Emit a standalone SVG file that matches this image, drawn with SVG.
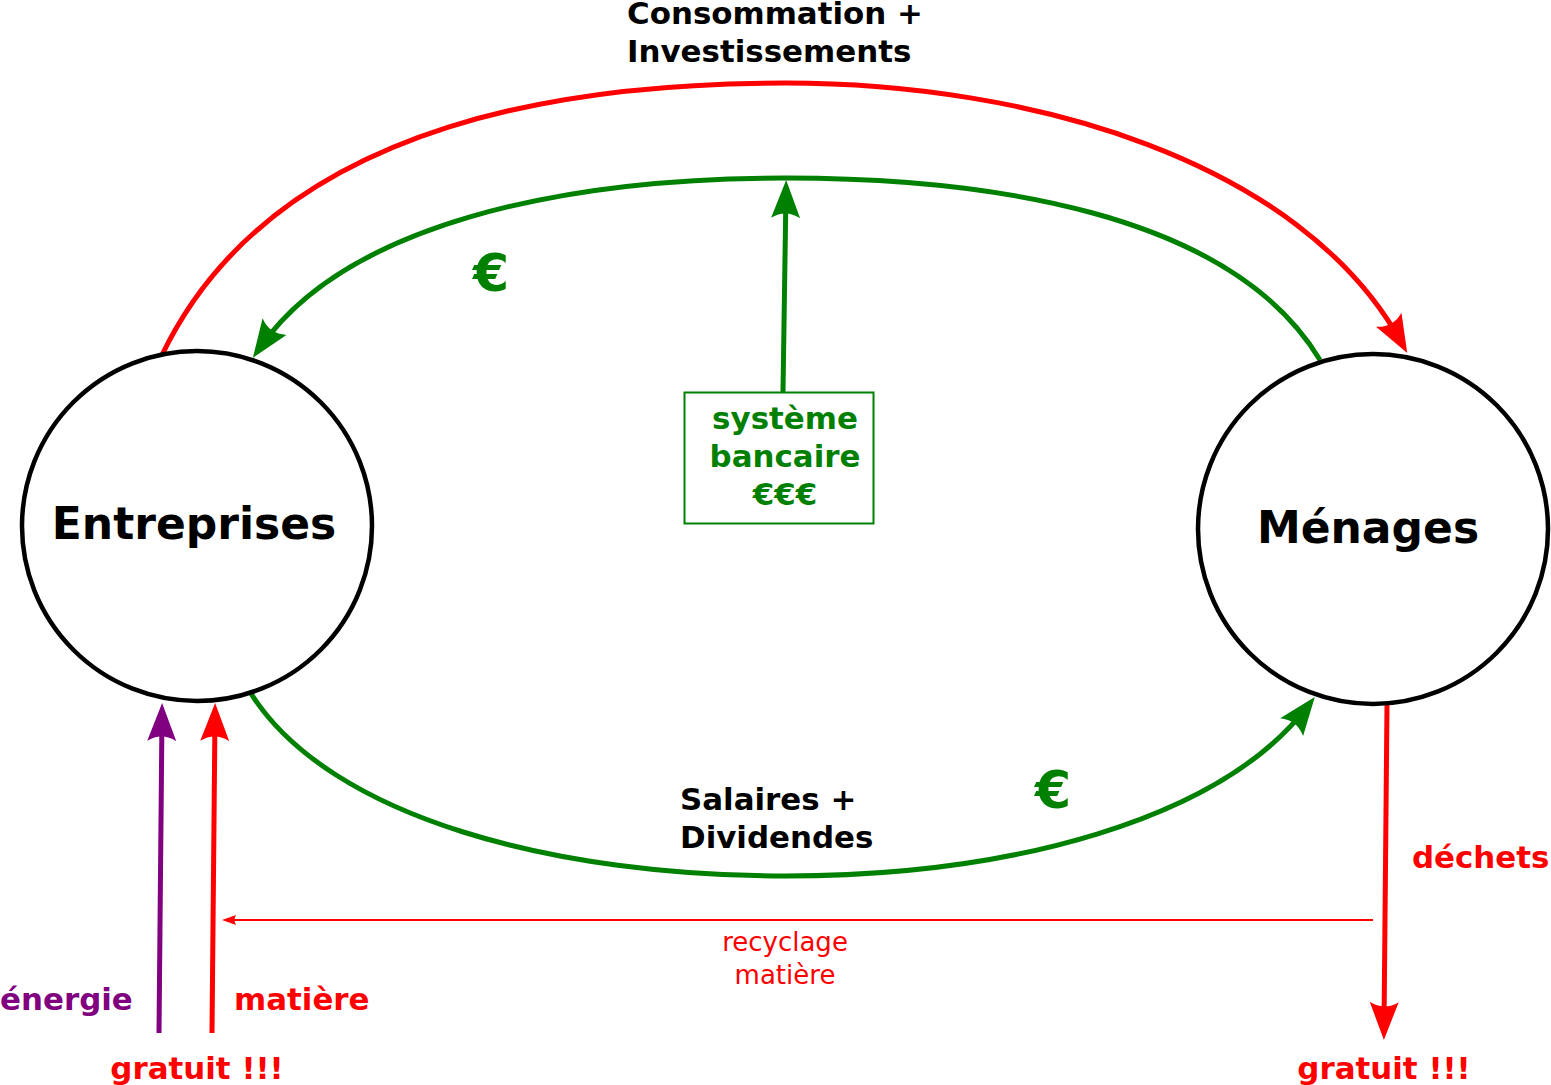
<svg xmlns="http://www.w3.org/2000/svg" width="1551" height="1085" viewBox="0 0 1551 1085">
<style>
.t{font-family:"DejaVu Sans",sans-serif;font-weight:bold;font-size:30.9px}
.big{font-family:"DejaVu Sans",sans-serif;font-weight:bold;font-size:44px}
.eur{font-family:"DejaVu Sans",sans-serif;font-weight:bold;font-size:52px;fill:#008000}
.small{font-family:"DejaVu Sans",sans-serif;font-size:26px;fill:#ff0000}
.node{fill:#fff;stroke:#000;stroke-width:4.5}
.c{fill:none;stroke-width:5}
</style>
<defs>
<marker id="ar" markerUnits="userSpaceOnUse" orient="auto" overflow="visible" markerWidth="1" markerHeight="1" refX="0" refY="0">
<path d="M12,0 L-26,-14.5 C-20,-5 -20,5 -26,14.5 Z" fill="#ff0000"/>
</marker>
<marker id="ag" markerUnits="userSpaceOnUse" orient="auto" overflow="visible" markerWidth="1" markerHeight="1" refX="0" refY="0">
<path d="M12,0 L-26,-14.5 C-20,-5 -20,5 -26,14.5 Z" fill="#008000"/>
</marker>
<marker id="ap" markerUnits="userSpaceOnUse" orient="auto" overflow="visible" markerWidth="1" markerHeight="1" refX="0" refY="0">
<path d="M12,0 L-26,-14.5 C-20,-5 -20,5 -26,14.5 Z" fill="#800080"/>
</marker>
<marker id="ars" markerUnits="userSpaceOnUse" orient="auto" overflow="visible" markerWidth="1" markerHeight="1" refX="0" refY="0">
<path d="M6,0 L-8,-5 C-6,-2 -6,2 -8,5 Z" fill="#ff0000"/>
</marker>
</defs>
<g id="connectors">
<path class="c" stroke="#ff0000" d="M162,355 C280,110 600,83 785,83 C1030,83 1300,160 1401.4,342.4" marker-end="url(#ar)"/>
<path class="c" stroke="#008000" d="M1320,360 C1230,210 980,178 785,178 C560,178 345,225 259.7,348" marker-end="url(#ag)"/>
<path class="c" stroke="#008000" d="M250,692 C330,820 560,876 785,876 C1010,876 1220,820 1307.5,706.5" marker-end="url(#ag)"/>
<path class="c" stroke="#008000" d="M783,392 L786,192" marker-end="url(#ag)"/>
<path class="c" stroke="#800080" d="M159,1033 L162,715" marker-end="url(#ap)"/>
<path class="c" stroke="#ff0000" d="M212,1033 L215,715" marker-end="url(#ar)"/>
<path class="c" stroke="#ff0000" d="M1387,705 L1384,1028" marker-end="url(#ar)"/>
<path fill="none" stroke="#ff0000" stroke-width="2" d="M1373,920 L228,920" marker-end="url(#ars)"/>
</g>
<g id="entreprises">
<circle class="node" cx="197" cy="526" r="175"/>
<text class="big" x="194" y="539" text-anchor="middle">Entreprises</text>
</g>
<g id="menages">
<circle class="node" cx="1373" cy="529" r="175"/>
<text class="big" x="1368" y="543" text-anchor="middle">Ménages</text>
</g>
<g id="systeme-bancaire">
<rect x="684.5" y="392.5" width="189" height="131" fill="#fff" stroke="#008000" stroke-width="2"/>
<text class="t" fill="#008000" text-anchor="middle"><tspan x="785" y="429">système</tspan><tspan x="785" y="467">bancaire</tspan><tspan x="785" y="505">€€€</tspan></text>
</g>
<g id="labels">
<text class="t"><tspan x="627" y="24">Consommation +</tspan><tspan x="627" y="62">Investissements</tspan></text>
<text class="t"><tspan x="680" y="810">Salaires +</tspan><tspan x="680" y="848">Dividendes</tspan></text>
<text class="eur" x="491" y="291" text-anchor="middle">€</text>
<text class="eur" x="1053" y="808" text-anchor="middle">€</text>
<text class="t" fill="#ff0000" x="1412" y="868">déchets</text>
<text class="t" fill="#800080" x="0" y="1010">énergie</text>
<text class="t" fill="#ff0000" x="234" y="1010">matière</text>
<text class="t" fill="#ff0000" x="197" y="1079" text-anchor="middle">gratuit !!!</text>
<text class="t" fill="#ff0000" x="1384" y="1079" text-anchor="middle">gratuit !!!</text>
<text class="small" text-anchor="middle"><tspan x="785" y="951">recyclage</tspan><tspan x="785" y="984">matière</tspan></text>
</g>
</svg>
